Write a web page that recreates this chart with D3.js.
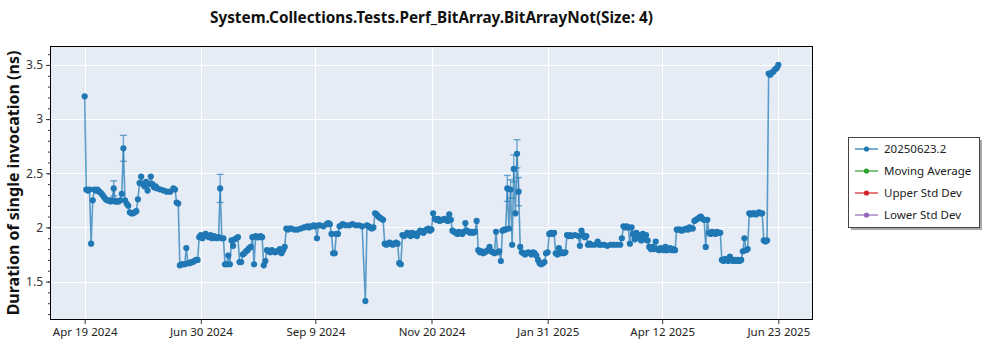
<!DOCTYPE html>
<html>
<head>
<meta charset="utf-8">
<script src="https://cdn.jsdelivr.net/npm/d3@7"></script>
<style>
  html, body { margin: 0; padding: 0; background: #ffffff; }
  svg { display: block; font-family: "Noto Sans", "DejaVu Sans", sans-serif; }
</style>
</head>
<body>
<svg id="chart" width="1000" height="350"></svg>
<script>
// ---- data -------------------------------------------------------------
const chartTitle = "System.Collections.Tests.Perf_BitArray.BitArrayNot(Size: 4)";
const yAxisTitle = "Duration of single invocation (ns)";

const runDates = [
  "2024-04-19","2024-04-20","2024-04-21","2024-04-22","2024-04-23","2024-04-24","2024-04-25","2024-04-26","2024-04-27","2024-04-28","2024-04-29","2024-04-30",
  "2024-05-01","2024-05-02","2024-05-03","2024-05-04","2024-05-05","2024-05-06","2024-05-07","2024-05-08","2024-05-09","2024-05-10","2024-05-11","2024-05-12","2024-05-13","2024-05-14","2024-05-15","2024-05-16","2024-05-17","2024-05-18","2024-05-19","2024-05-20","2024-05-21","2024-05-22","2024-05-23","2024-05-24","2024-05-25","2024-05-26","2024-05-27","2024-05-28","2024-05-29","2024-05-30","2024-05-31",
  "2024-06-01","2024-06-02","2024-06-03","2024-06-05","2024-06-07","2024-06-09","2024-06-11","2024-06-13","2024-06-14","2024-06-15","2024-06-16","2024-06-17","2024-06-18","2024-06-19","2024-06-20","2024-06-21","2024-06-22","2024-06-23","2024-06-24","2024-06-25","2024-06-26","2024-06-27","2024-06-28","2024-06-29","2024-06-30",
  "2024-07-01","2024-07-02","2024-07-03","2024-07-04","2024-07-05","2024-07-06","2024-07-07","2024-07-08","2024-07-09","2024-07-10","2024-07-11","2024-07-12","2024-07-13","2024-07-14","2024-07-15","2024-07-16","2024-07-17","2024-07-18","2024-07-19","2024-07-20","2024-07-21","2024-07-22","2024-07-23","2024-07-24","2024-07-25","2024-07-26","2024-07-27","2024-07-28","2024-07-29","2024-07-30","2024-07-31",
  "2024-08-01","2024-08-02","2024-08-03","2024-08-04","2024-08-05","2024-08-06","2024-08-07","2024-08-08","2024-08-09","2024-08-10","2024-08-11","2024-08-12","2024-08-13","2024-08-14","2024-08-15","2024-08-16","2024-08-17","2024-08-18","2024-08-19","2024-08-20","2024-08-21","2024-08-22","2024-08-23","2024-08-24","2024-08-25","2024-08-27","2024-08-29","2024-08-31",
  "2024-09-02","2024-09-04","2024-09-05","2024-09-06","2024-09-07","2024-09-08","2024-09-09","2024-09-10","2024-09-11","2024-09-12","2024-09-14","2024-09-16","2024-09-17","2024-09-18","2024-09-19","2024-09-20","2024-09-21","2024-09-22","2024-09-23","2024-09-24","2024-09-25","2024-09-26","2024-09-28","2024-09-30",
  "2024-10-02","2024-10-04","2024-10-06","2024-10-08","2024-10-10","2024-10-11","2024-10-12","2024-10-13","2024-10-14","2024-10-15","2024-10-16","2024-10-17","2024-10-18","2024-10-19","2024-10-20","2024-10-21","2024-10-22","2024-10-23","2024-10-24","2024-10-25","2024-10-26","2024-10-27","2024-10-28","2024-10-29","2024-10-30","2024-10-31",
  "2024-11-01","2024-11-02","2024-11-03","2024-11-04","2024-11-05","2024-11-06","2024-11-07","2024-11-08","2024-11-09","2024-11-10","2024-11-11","2024-11-12","2024-11-13","2024-11-14","2024-11-15","2024-11-16","2024-11-17","2024-11-18","2024-11-19","2024-11-20","2024-11-21","2024-11-22","2024-11-23","2024-11-24","2024-11-25","2024-11-26","2024-11-27","2024-11-28","2024-11-29","2024-11-30",
  "2024-12-01","2024-12-02","2024-12-03","2024-12-04","2024-12-05","2024-12-06","2024-12-07","2024-12-08","2024-12-09","2024-12-10","2024-12-11","2024-12-12","2024-12-13","2024-12-14","2024-12-15","2024-12-16","2024-12-17","2024-12-18","2024-12-19","2024-12-20","2024-12-21","2024-12-22","2024-12-23","2024-12-24","2024-12-25","2024-12-26","2024-12-27","2024-12-28","2024-12-29","2024-12-30","2024-12-31",
  "2025-01-01","2025-01-02","2025-01-03","2025-01-04","2025-01-05","2025-01-06","2025-01-07","2025-01-08","2025-01-09","2025-01-10","2025-01-11","2025-01-12","2025-01-13","2025-01-14","2025-01-15","2025-01-16","2025-01-17","2025-01-18","2025-01-19","2025-01-20","2025-01-21","2025-01-22","2025-01-23","2025-01-24","2025-01-25","2025-01-26","2025-01-27","2025-01-28","2025-01-29","2025-01-30","2025-01-31",
  "2025-02-01","2025-02-02","2025-02-03","2025-02-04","2025-02-05","2025-02-06","2025-02-07","2025-02-08","2025-02-09","2025-02-10","2025-02-11","2025-02-12","2025-02-13","2025-02-14","2025-02-15","2025-02-17","2025-02-19","2025-02-20","2025-02-21","2025-02-22","2025-02-23","2025-02-24","2025-02-25","2025-02-26","2025-02-27",
  "2025-03-01","2025-03-03","2025-03-04","2025-03-05","2025-03-07","2025-03-09","2025-03-11","2025-03-13","2025-03-15","2025-03-17","2025-03-18","2025-03-19","2025-03-20","2025-03-21","2025-03-22","2025-03-23","2025-03-24","2025-03-25","2025-03-26","2025-03-27","2025-03-28","2025-03-29","2025-03-30","2025-03-31",
  "2025-04-01","2025-04-02","2025-04-03","2025-04-04","2025-04-05","2025-04-06","2025-04-07","2025-04-08","2025-04-09","2025-04-10","2025-04-11","2025-04-12","2025-04-13","2025-04-14","2025-04-15","2025-04-16","2025-04-17","2025-04-18","2025-04-19","2025-04-20","2025-04-21","2025-04-22","2025-04-23","2025-04-24","2025-04-25","2025-04-26","2025-04-27","2025-04-28","2025-04-29","2025-04-30",
  "2025-05-01","2025-05-02","2025-05-03","2025-05-04","2025-05-05","2025-05-06","2025-05-07","2025-05-08","2025-05-09","2025-05-10","2025-05-11","2025-05-12","2025-05-13","2025-05-14","2025-05-15","2025-05-16","2025-05-17","2025-05-18","2025-05-19","2025-05-20","2025-05-21","2025-05-22","2025-05-23","2025-05-24","2025-05-25","2025-05-26","2025-05-27","2025-05-28","2025-05-29","2025-05-30","2025-05-31",
  "2025-06-01","2025-06-02","2025-06-03","2025-06-04","2025-06-05","2025-06-06","2025-06-07","2025-06-08","2025-06-09","2025-06-10","2025-06-11","2025-06-12","2025-06-13","2025-06-14","2025-06-15","2025-06-16","2025-06-17","2025-06-18","2025-06-19","2025-06-20","2025-06-21","2025-06-22","2025-06-23"
];

// nanoseconds per invocation, one per run date
const durations = [
  3.21,2.35,2.34,2.35,1.85,2.25,2.35,2.34,2.35,2.33,2.32,2.30,
  2.28,2.26,2.25,2.25,2.24,2.25,2.36,2.24,2.24,2.24,2.25,2.31,2.73,2.25,2.22,2.20,2.14,2.13,2.13,2.14,2.15,2.26,2.41,2.47,2.40,2.38,2.42,2.34,2.40,2.47,2.40,
  2.37,2.38,2.36,2.35,2.34,2.33,2.33,2.36,2.35,2.23,2.22,1.65,1.66,1.66,1.66,1.81,1.67,1.67,1.68,1.68,1.69,1.70,1.70,1.91,1.93,
  1.90,1.92,1.94,1.92,1.91,1.93,1.90,1.92,1.91,1.90,1.91,2.36,1.90,1.90,1.66,1.66,1.74,1.66,1.88,1.83,1.89,1.90,1.91,1.68,1.68,1.75,1.76,1.78,1.79,1.81,1.82,
  1.91,1.66,1.92,1.91,1.91,1.92,1.91,1.65,1.69,1.79,1.78,1.77,1.79,1.78,1.77,1.78,1.78,1.80,1.76,1.79,1.82,1.99,1.98,1.99,1.99,1.98,1.98,1.99,
  2.00,2.01,2.00,2.01,2.01,2.02,2.01,1.90,2.02,2.02,2.01,2.03,2.04,2.03,1.94,1.76,1.76,1.94,1.94,2.01,2.02,2.03,2.02,2.02,
  2.03,2.02,2.02,2.01,1.32,2.02,2.01,2.00,1.99,2.00,2.13,2.12,2.10,2.09,2.08,2.07,1.85,1.84,1.85,1.86,1.85,1.84,1.85,1.86,1.85,1.67,
  1.66,1.93,1.92,1.93,1.95,1.94,1.92,1.95,1.93,1.94,1.92,1.95,1.97,1.96,1.95,1.97,1.98,1.99,1.97,1.98,2.13,2.08,2.07,2.08,2.06,2.07,2.07,2.08,2.07,2.06,
  2.12,2.07,1.97,1.96,1.95,1.94,1.96,1.95,1.94,1.96,2.04,1.97,1.96,1.95,1.96,1.95,1.96,2.06,1.79,1.77,1.78,1.76,1.77,1.78,1.79,1.82,1.78,1.77,1.76,1.96,1.77,
  1.78,1.69,1.97,1.98,1.98,2.36,1.99,2.35,1.84,2.54,2.13,2.68,2.33,1.82,1.77,1.76,1.75,1.76,1.77,1.76,1.75,1.77,1.76,1.74,1.70,1.67,1.66,1.67,1.68,1.76,1.77,
  1.94,1.95,1.94,1.95,1.76,1.75,1.81,1.76,1.77,1.76,1.77,1.93,1.92,1.93,1.92,1.93,1.92,1.83,1.97,1.93,1.91,1.92,1.84,1.85,1.84,
  1.84,1.87,1.84,1.84,1.84,1.83,1.84,1.84,1.84,1.84,1.90,2.01,2.00,2.01,2.00,1.85,2.00,1.94,1.89,1.95,1.90,1.93,1.88,1.94,
  1.89,1.93,1.88,1.82,1.80,1.82,1.80,1.87,1.80,1.79,1.81,1.80,1.79,1.82,1.79,1.80,1.81,1.79,1.80,1.79,1.98,1.98,1.98,1.97,1.98,1.98,1.99,1.98,2.00,1.99,
  1.99,2.06,2.07,2.08,2.09,2.10,2.08,2.07,1.82,2.07,1.95,1.94,1.96,1.95,1.94,1.96,1.95,1.95,1.70,1.69,1.71,1.70,1.69,1.73,1.70,1.69,1.70,1.69,1.70,1.69,1.70,
  1.78,1.90,1.79,1.80,2.13,2.12,2.13,2.13,2.12,2.13,2.14,2.13,2.13,1.88,1.87,1.88,3.42,3.41,3.43,3.44,3.46,3.47,3.50
];

// runs reported with a spread (low / high whisker)
const errorDates = ["2024-05-07","2024-05-13","2024-07-12","2025-01-06","2025-01-08","2025-01-10","2025-01-12","2025-01-13"];
const errorLow   = [2.29, 2.61, 2.23, 2.24, 2.27, 2.42, 2.55, 2.20];
const errorHigh  = [2.43, 2.85, 2.49, 2.48, 2.44, 2.67, 2.81, 2.46];

const xTickLabels = ["Apr 19 2024","Jun 30 2024","Sep 9 2024","Nov 20 2024","Jan 31 2025","Apr 12 2025","Jun 23 2025"];
const yTickValues = [1.5, 2, 2.5, 3, 3.5];
const yDomain = [1.145, 3.675];

const legendLabels = ["20250623.2", "Moving Average", "Upper Std Dev", "Lower Std Dev"];
const legendColors = ["#1f77b4", "#2ca02c", "#d62728", "#9467bd"];

// ---- layout -------------------------------------------------------------
const plot = { left: 50, right: 813, top: 46, bottom: 320 };
const seriesColor = legendColors[0];

const parseDay = d3.timeParse("%Y-%m-%d");
const parseTick = d3.timeParse("%b %d %Y");

const points = runDates.map((d, i) => ({ date: parseDay(d), value: durations[i] }));
if (runDates.length !== durations.length) console.error("length mismatch", runDates.length, durations.length);
const errors = errorDates.map((d, i) => ({ date: parseDay(d), low: errorLow[i], high: errorHigh[i] }));
const tickDates = xTickLabels.map(parseTick);

// 5% padding on the time extent
const [t0, t1] = d3.extent(points, p => p.date);
const pad = (t1 - t0) * 0.05;
const x = d3.scaleTime()
  .domain([new Date(+t0 - pad), new Date(+t1 + pad)])
  .range([plot.left, plot.right]);
const y = d3.scaleLinear().domain(yDomain).range([plot.bottom, plot.top]);

const svg = d3.select("#chart");

// title
svg.append("text")
  .attr("x", (plot.left + plot.right) / 2)
  .attr("y", 23)
  .attr("text-anchor", "middle")
  .attr("font-size", 15.3)
  .attr("font-weight", "bold")
  .attr("fill", "#111")
  .text(chartTitle);

// plot background
svg.append("rect")
  .attr("x", plot.left).attr("y", plot.top)
  .attr("width", plot.right - plot.left).attr("height", plot.bottom - plot.top)
  .attr("fill", "#e5ecf6");

// grid lines
const grid = svg.append("g").attr("stroke", "#ffffff").attr("stroke-width", 1);
grid.selectAll("line.v").data(tickDates).join("line")
  .attr("class", "v")
  .attr("x1", d => Math.round(x(d)) + 0.5).attr("x2", d => Math.round(x(d)) + 0.5)
  .attr("y1", plot.top).attr("y2", plot.bottom);
grid.selectAll("line.h").data(yTickValues).join("line")
  .attr("class", "h")
  .attr("y1", d => Math.round(y(d)) + 0.5).attr("y2", d => Math.round(y(d)) + 0.5)
  .attr("x1", plot.left).attr("x2", plot.right);

// clip for data marks
svg.append("clipPath").attr("id", "plot-clip")
  .append("rect")
  .attr("x", plot.left).attr("y", plot.top)
  .attr("width", plot.right - plot.left).attr("height", plot.bottom - plot.top);

const marks = svg.append("g").attr("clip-path", "url(#plot-clip)");

// error whiskers
const capHalf = 3.5;
const whiskers = marks.append("g")
  .attr("stroke", seriesColor).attr("stroke-width", 1.4).attr("stroke-opacity", 0.6);
errors.forEach(e => {
  const cx = x(e.date);
  whiskers.append("line").attr("x1", cx).attr("x2", cx).attr("y1", y(e.low)).attr("y2", y(e.high));
  whiskers.append("line").attr("x1", cx - capHalf).attr("x2", cx + capHalf).attr("y1", y(e.low)).attr("y2", y(e.low));
  whiskers.append("line").attr("x1", cx - capHalf).attr("x2", cx + capHalf).attr("y1", y(e.high)).attr("y2", y(e.high));
});

// series line
marks.append("path")
  .datum(points)
  .attr("fill", "none")
  .attr("stroke", seriesColor)
  .attr("stroke-width", 1.6)
  .attr("stroke-opacity", 0.7)
  .attr("d", d3.line().x(p => x(p.date)).y(p => y(p.value)));

// markers
marks.append("g").attr("fill", seriesColor)
  .selectAll("circle").data(points).join("circle")
  .attr("cx", p => x(p.date))
  .attr("cy", p => y(p.value))
  .attr("r", 3.1);

// frame
svg.append("rect")
  .attr("x", plot.left + 0.5).attr("y", plot.top + 0.5)
  .attr("width", plot.right - plot.left - 1).attr("height", plot.bottom - plot.top - 1)
  .attr("fill", "none").attr("stroke", "#000").attr("stroke-width", 1);

// y axis with minor ticks
const yMinor = d3.range(12, 37).map(v => v / 10).filter(v => v >= yDomain[0] && v <= yDomain[1]);
svg.append("g")
  .attr("transform", `translate(${plot.left},0)`)
  .call(d3.axisLeft(y).tickValues(yMinor).tickSize(2).tickFormat(""))
  .call(g => g.select(".domain").remove())
  .call(g => g.selectAll("line").attr("stroke", "#333"));
svg.append("g")
  .attr("transform", `translate(${plot.left},0)`)
  .call(d3.axisLeft(y).tickValues(yTickValues).tickSize(4).tickPadding(3).tickFormat(d3.format("")))
  .call(g => g.select(".domain").remove())
  .call(g => g.selectAll("line").attr("stroke", "#333"))
  .call(g => g.selectAll("text").attr("font-size", 12).attr("fill", "#333").attr("font-family", "Noto Sans, sans-serif"));

// x axis
svg.append("g")
  .attr("transform", `translate(0,${plot.bottom})`)
  .call(d3.axisBottom(x).tickValues(tickDates).tickSize(4).tickPadding(4).tickFormat((d, i) => xTickLabels[i]))
  .call(g => g.select(".domain").remove())
  .call(g => g.selectAll("line").attr("stroke", "#333"))
  .call(g => g.selectAll("text").attr("font-size", 11.5).attr("fill", "#222").attr("font-family", "Noto Sans, sans-serif"));

// y axis title
svg.append("text")
  .attr("transform", `translate(19,${(plot.top + plot.bottom) / 2}) rotate(-90)`)
  .attr("text-anchor", "middle")
  .attr("font-size", 16)
  .attr("font-weight", "bold")
  .attr("fill", "#111")
  .text(yAxisTitle);

// legend
const lg = { x: 848, y: 137, w: 131, h: 90 };
const legend = svg.append("g");
legend.append("rect")
  .attr("x", lg.x + 3).attr("y", lg.y + 3).attr("width", lg.w).attr("height", lg.h)
  .attr("fill", "#a8a8a8");
legend.append("rect")
  .attr("x", lg.x + 0.5).attr("y", lg.y + 0.5).attr("width", lg.w).attr("height", lg.h)
  .attr("fill", "#ffffff").attr("stroke", "#444").attr("stroke-width", 1);
legendLabels.forEach((label, i) => {
  const cy = lg.y + 12 + i * 22;
  const row = legend.append("g");
  row.append("line")
    .attr("x1", lg.x + 7).attr("x2", lg.x + 30).attr("y1", cy).attr("y2", cy)
    .attr("stroke", legendColors[i]).attr("stroke-width", 1.5).attr("stroke-opacity", 0.8);
  row.append("circle").attr("cx", lg.x + 18.5).attr("cy", cy).attr("r", 2.6).attr("fill", legendColors[i]);
  row.append("text")
    .attr("x", lg.x + 36).attr("y", cy)
    .attr("dy", "0.35em")
    .attr("font-size", 11.5)
    .attr("fill", "#222")
    .text(label);
});
</script>
</body>
</html>
